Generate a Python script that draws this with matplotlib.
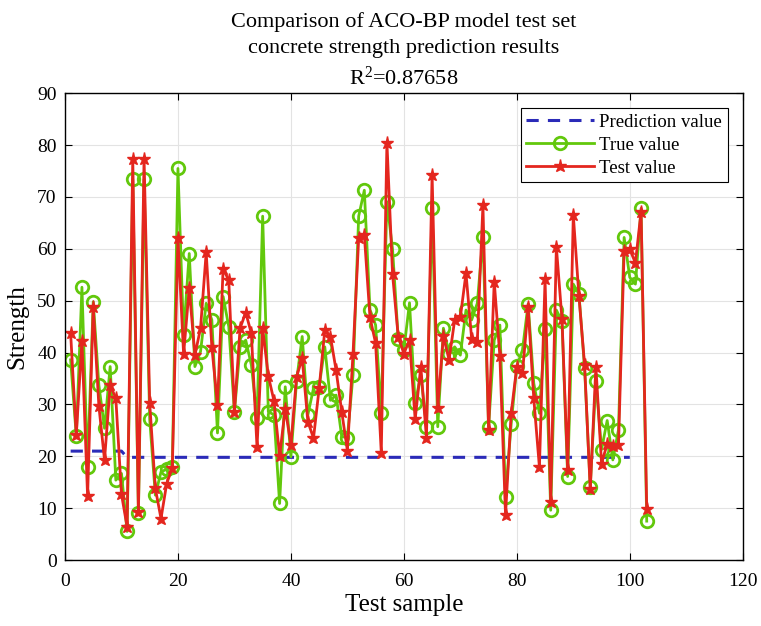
import numpy as np
import matplotlib
matplotlib.use("Agg")
import matplotlib.pyplot as plt

plt.rcParams['font.family'] = ['Liberation Serif', 'DejaVu Serif']
plt.rcParams['mathtext.fontset'] = 'custom'
plt.rcParams['mathtext.rm'] = 'Liberation Serif'
plt.rcParams['mathtext.it'] = 'Liberation Serif'

# values
true_value = [38.6, 23.9, 52.6, 18.0, 49.8, 33.7, 25.4, 37.3, 15.4, 16.7,
              5.5, 73.4, 9.0, 73.4, 27.1, 12.5, 17.0, 17.5, 18.0, 75.5,
              43.4, 59.1, 37.3, 40.2, 49.5, 46.3, 24.5, 50.8, 45.0, 28.6,
              41.1, 42.4, 37.6, 27.3, 66.3, 28.6, 28.0, 10.9, 33.4, 19.9,
              34.5, 43.1, 28.0, 33.1, 33.4, 41.1, 30.8, 31.8, 23.8, 23.6,
              35.7, 66.3, 71.3, 48.3, 45.3, 28.3, 69.1, 59.9, 42.7, 40.5,
              49.6, 30.2, 35.7, 25.7, 67.8, 25.7, 44.7, 39.8, 41.1, 39.5,
              48.2, 46.3, 49.5, 62.3, 25.7, 42.4, 45.3, 12.2, 26.2, 37.4,
              40.5, 49.4, 34.1, 28.3, 44.5, 9.6, 48.2, 46.0, 16.1, 53.2,
              51.3, 37.0, 14.1, 34.6, 21.3, 26.9, 19.3, 25.1, 62.2, 54.5,
              53.2, 67.8, 7.5]

test_value = [43.7, 24.1, 42.2, 12.3, 48.8, 29.7, 19.3, 33.7, 31.2, 12.7,
              6.4, 77.4, 9.3, 77.4, 30.2, 13.8, 8.0, 14.7, 17.8, 62.0,
              39.7, 52.4, 39.5, 44.7, 59.3, 41.1, 29.9, 56.2, 53.9, 28.6,
              44.7, 47.7, 43.7, 21.7, 44.7, 35.5, 30.7, 20.1, 29.2, 22.2,
              35.3, 38.9, 26.7, 23.5, 33.1, 44.3, 43.1, 36.6, 28.6, 21.1,
              39.8, 62.0, 62.7, 46.8, 41.8, 20.7, 80.5, 55.1, 43.1, 39.8,
              42.4, 27.1, 37.3, 23.6, 74.2, 29.4, 43.2, 38.6, 46.3, 46.8,
              55.3, 42.7, 42.1, 68.4, 25.1, 53.7, 39.3, 8.7, 28.3, 37.3,
              36.0, 48.7, 31.2, 17.9, 54.1, 11.2, 60.4, 46.4, 17.4, 66.5,
              50.9, 37.6, 13.6, 37.3, 18.6, 22.4, 21.9, 22.1, 59.6, 59.9,
              57.3, 67.2, 9.9]

# prediction line as drawn (visible up to sample 100)
pred_value = [21.0] * 10 + [19.8] * 90

x = np.arange(1, len(true_value) + 1)
xp = np.arange(1, len(pred_value) + 1)

fig = plt.figure(figsize=(7.61, 6.26), dpi=100)
ax = fig.add_axes([0.0854, 0.1054, 0.8906, 0.7456])

ax.plot(xp, pred_value, '--', color='#2b2bb8', lw=2.2, dashes=(4, 3), label='Prediction value')
ax.plot(x, true_value, '-o', color='#62c80c', lw=2, ms=9, mfc='none', mew=2, label='True value')
ax.plot(x, test_value, '-*', color='#e4261e', lw=2, ms=9.5, mec='#e4261e', label='Test value')

ax.set_xlim(0, 120)
ax.set_ylim(0, 90)
ax.set_xticks(np.arange(0, 121, 20))
ax.set_yticks(np.arange(0, 91, 10))
ax.grid(True, color='#e3e3e3', lw=0.8)
ax.tick_params(direction='in', top=True, right=True, labelsize=14, length=5)
ax.tick_params(axis='x', pad=9)
ax.tick_params(axis='y', pad=6)
for s in ax.spines.values():
    s.set_linewidth(1)

ax.set_xlabel('Test sample', fontsize=18, labelpad=3)
ax.set_ylabel('Strength', fontsize=18, labelpad=6)
ax.set_title('Comparison of ACO-BP model test set\nconcrete strength prediction results\n'
             r'R$^2$=0.87658', fontsize=16, linespacing=1.5, pad=6)

leg = ax.legend(loc='upper right', fontsize=13.5, fancybox=False, edgecolor='black',
                framealpha=1, borderpad=0.3, labelspacing=0.3, handlelength=3.6,
                handletextpad=0.3, borderaxespad=0.8)
leg.get_frame().set_linewidth(0.8)

fig.savefig('out.png', dpi=100)
